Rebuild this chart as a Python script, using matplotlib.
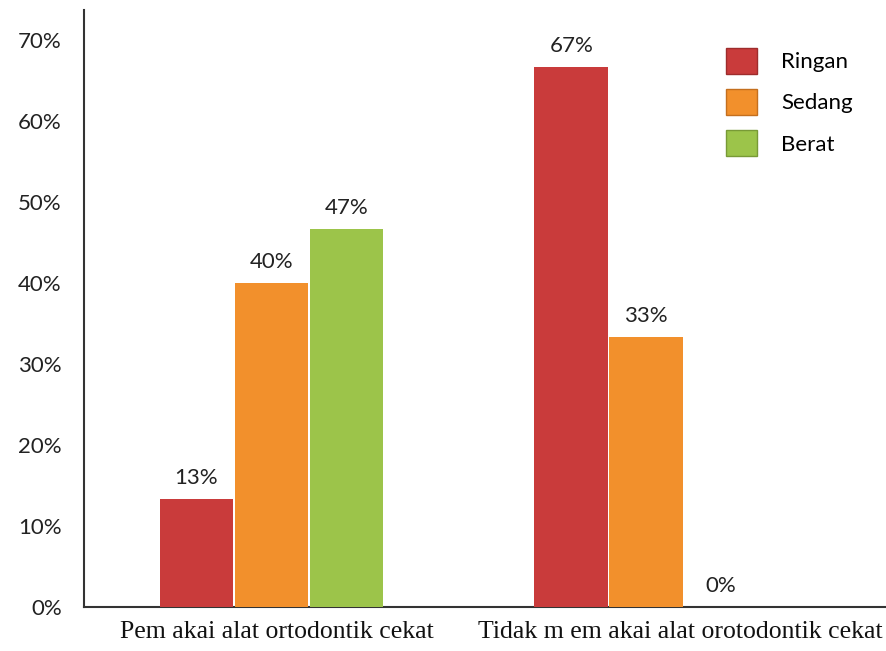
import numpy as np
import matplotlib
matplotlib.use("Agg")
import matplotlib.pyplot as plt
import matplotlib.transforms as mtransforms
from matplotlib.patches import Patch

categories = ["Pem akai alat ortodontik cekat", "Tidak m em akai alat orotodontik cekat"]
series = ["Ringan", "Sedang", "Berat"]
ringan = [13.3, 66.7]
sedang = [40.0, 33.3]
berat = [46.7, 0.0]

colors = ["#C93B3B", "#F2902C", "#9CC44A"]
edges = ["#9E2C2C", "#C46F1E", "#789A36"]

fig = plt.figure(figsize=(8.86, 6.51), dpi=100)
ax = fig.add_axes([0.0948, 0.0676, 0.9052, 0.917])

x = np.arange(len(categories))
width = 0.2
values = [ringan, sedang, berat]

for i, vals in enumerate(values):
    pos = x + (i - 1) * width
    bars = ax.bar(pos, vals, width=width * 0.98, color=colors[i],
                  linewidth=0, zorder=3)
    for b, v in zip(bars, vals):
        ax.annotate(f"{v:.0f}%", (b.get_x() + b.get_width() / 2, v),
                    xytext=(0, 8), textcoords="offset points",
                    ha="center", va="bottom", fontsize=16,
                    family="Lato", color="#222222")

ax.set_xlim(-0.5, 1.64)
ax.set_ylim(0, 73.7)
ax.set_yticks(np.arange(0, 71, 10))
ax.set_yticklabels([f"{t}%" for t in range(0, 71, 10)], family="Lato",
                   fontsize=16, color="#222222")
ax.set_xticks(x)
ax.set_xticklabels(categories, family="Liberation Serif", fontsize=18.5,
                   color="#111111")
ax.tick_params(axis="y", length=0, pad=16)
ax.tick_params(axis="x", length=0, pad=10)

# the original labels sit a bit right of the group centres
shifts = [5, 34]
for lab, dx in zip(ax.get_xticklabels(), shifts):
    lab.set_transform(lab.get_transform() +
                      mtransforms.ScaledTranslation(dx / 100, 0, fig.dpi_scale_trans))

for s in ["top", "right"]:
    ax.spines[s].set_visible(False)
for s in ["left", "bottom"]:
    ax.spines[s].set_color("#333333")
    ax.spines[s].set_linewidth(1.5)

handles = [Patch(facecolor=c, edgecolor=e, linewidth=1.0, label=l)
           for c, e, l in zip(colors, edges, series)]
ax.legend(handles=handles, loc="upper left", bbox_to_anchor=(0.775, 0.97),
          frameon=False, handlelength=1.4, handleheight=1.4,
          labelspacing=0.7, handletextpad=1.1,
          prop={"family": "Lato", "size": 16})

fig.savefig("out.png", dpi=100)
